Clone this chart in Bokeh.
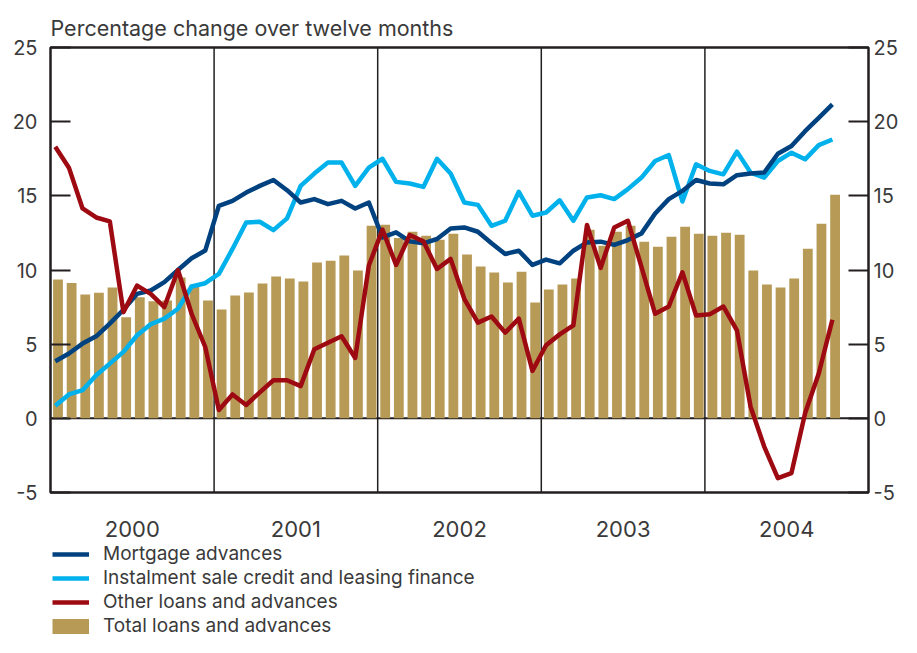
from bokeh.plotting import figure
from bokeh.models import (LinearAxis, FixedTicker, Span, Legend, LegendItem,
                          Range1d, ColumnDataSource)
from bokeh.layouts import column
from bokeh.embed import file_html
from bokeh.resources import INLINE

# ---------------- data (monthly, Jan 2000 - Oct 2004) ----------------
years = ["2000", "2001", "2002", "2003", "2004"]

mortgage = [3.85, 4.37, 5.04, 5.53, 6.38, 7.32, 8.39, 8.62, 9.18, 10.0, 10.79, 11.31,
            14.33, 14.66, 15.22, 15.67, 16.07, 15.38, 14.55, 14.78, 14.44, 14.66, 14.15, 14.55,
            12.2, 12.54, 11.93, 11.8, 12.09, 12.8, 12.87, 12.58, 11.8, 11.08, 11.3, 10.34,
            10.7, 10.45, 11.3, 11.86, 11.91, 11.69, 12.02, 12.47, 13.81, 14.78, 15.33, 16.07,
            15.83, 15.78, 16.39, 16.5, 16.57, 17.84, 18.36, 19.36, 20.26, 21.16]

instalment = [0.85, 1.61, 1.9, 2.91, 3.69, 4.48, 5.6, 6.34, 6.72, 7.39, 8.89, 9.11,
              9.74, 11.42, 13.2, 13.25, 12.69, 13.48, 15.67, 16.5, 17.24, 17.24, 15.67, 16.9,
              17.5, 15.94, 15.83, 15.6, 17.5, 16.5, 14.55, 14.39, 12.98, 13.32, 15.27, 13.66,
              13.88, 14.7, 13.32, 14.89, 15.04, 14.78, 15.45, 16.23, 17.35, 17.75, 14.62, 17.13,
              16.68, 16.45, 17.98, 16.57, 16.23, 17.35, 17.91, 17.46, 18.42, 18.8]

other = [18.31, 16.9, 14.15, 13.54, 13.28, 7.16, 8.95, 8.39, 7.5, 10.0, 7.05, 4.81,
         0.56, 1.61, 0.9, 1.75, 2.57, 2.57, 2.17, 4.66, 5.1, 5.53, 4.07, 10.3,
         12.72, 10.34, 12.36, 11.93, 10.07, 10.75, 8.06, 6.45, 6.87, 5.78, 6.72, 3.2,
         4.93, 5.66, 6.27, 13.03, 10.14, 12.87, 13.32, 10.19, 7.05, 7.54, 9.85, 6.94,
         7.01, 7.54, 5.93, 0.78, -1.9, -4.03, -3.69, 0.34, 3.02, 6.65]

total = [9.36, 9.13, 8.35, 8.46, 8.82, 6.81, 8.17, 7.9, 7.95, 9.49, 9.0, 7.95,
         7.34, 8.28, 8.48, 9.09, 9.56, 9.42, 9.22, 10.5, 10.63, 10.97, 9.96, 12.98,
         13.05, 12.16, 12.58, 12.31, 12.04, 12.45, 11.04, 10.23, 9.83, 9.16, 9.89, 7.81,
         8.69, 9.02, 9.42, 12.72, 11.64, 12.58, 12.98, 11.91, 11.57, 12.25, 12.92, 12.45,
         12.31, 12.51, 12.38, 9.96, 9.02, 8.82, 9.42, 11.44, 13.12, 15.07]

y_ticks = [-5, 0, 5, 10, 15, 20, 25]

labels = ["Mortgage advances",
          "Instalment sale credit and leasing finance",
          "Other loans and advances",
          "Total loans and advances"]

# ---------------- styling ----------------
C_MORT = "#00427f"
C_INST = "#00b1ec"
C_OTHER = "#9e0a12"
C_BAR = "#b89a57"
C_FRAME = "#231f20"
C_TEXT = "#3a3a3a"
FONT = "Inter"
LW = 4.5

months_per_year = 12
n = len(total)
idx = list(range(n))
src = ColumnDataSource(dict(
    bx=[i + 0.55 for i in idx],
    lx=[i + 0.35 for i in idx],
    mortgage=mortgage, instalment=instalment, other=other, total=total,
))

p = figure(width=901, height=541,
           x_range=Range1d(0, months_per_year * len(years)),
           y_range=Range1d(y_ticks[0], y_ticks[-1]),
           output_backend="svg", toolbar_location=None,
           min_border_left=50, min_border_right=30,
           min_border_top=47, min_border_bottom=49,
           background_fill_color="white", border_fill_color="white")

p.title.text = "Percentage change over twelve months"
p.title.text_font = FONT
p.title.text_font_size = "21.5px"
p.title.text_font_style = "normal"
p.title.text_color = C_TEXT
p.title.align = "left"
p.title.standoff = 14

p.xgrid.visible = False
p.ygrid.visible = False
p.outline_line_color = C_FRAME
p.outline_line_width = 2.5
p.outline_line_alpha = 1.0

# separators and zero line
for k in range(1, len(years)):
    p.add_layout(Span(location=k * months_per_year, dimension="height",
                      line_color=C_FRAME, line_width=1.5, level="underlay"))
p.add_layout(Span(location=0, dimension="width", line_color=C_FRAME,
                  line_width=2, level="underlay"))

# glyphs
r_bar = p.vbar(x="bx", top="total", bottom=0, width=0.72, source=src,
               fill_color=C_BAR, line_color=None)
r_inst = p.line("lx", "instalment", source=src, line_color=C_INST, line_width=LW,
                line_join="round")
r_mort = p.line("lx", "mortgage", source=src, line_color=C_MORT, line_width=LW,
                line_join="round")
r_other = p.line("lx", "other", source=src, line_color=C_OTHER, line_width=LW,
                 line_join="round")

# y axes
overrides = {t: str(t) for t in y_ticks}


def style_y(ax, standoff):
    ax.ticker = FixedTicker(ticks=y_ticks)
    ax.major_label_overrides = overrides
    ax.axis_line_color = None
    ax.major_tick_in = 20
    ax.major_tick_out = 0
    ax.major_tick_line_width = 2
    ax.major_tick_line_color = C_FRAME
    ax.minor_tick_line_color = None
    ax.major_label_standoff = standoff
    ax.major_label_text_font = FONT
    ax.major_label_text_font_size = "20px"
    ax.major_label_text_color = C_TEXT


style_y(p.yaxis[0], 13)
right_axis = LinearAxis()
style_y(right_axis, 5)
p.add_layout(right_axis, "right")

# x axis: year labels in the middle of each year
xax = p.xaxis[0]
mids = [k * months_per_year + months_per_year / 2 for k in range(len(years))]
xax.ticker = FixedTicker(ticks=mids)
xax.major_label_overrides = {m: y for m, y in zip(mids, years)}
xax.axis_line_color = None
xax.major_tick_line_color = None
xax.minor_tick_line_color = None
xax.major_label_standoff = 22
xax.major_label_text_font = FONT
xax.major_label_text_font_size = "22px"
xax.major_label_text_color = C_TEXT

# ---------------- legend strip under the chart ----------------
# The strip re-uses the same series; its y range lies above the data so the
# series themselves stay out of view and only the legend keys are shown.
lf = figure(width=901, height=96, x_range=Range1d(0, months_per_year * len(years)),
            y_range=Range1d(100, 101),
            output_backend="svg", toolbar_location=None,
            x_axis_location=None, y_axis_location=None,
            min_border=0, outline_line_color=None,
            background_fill_color="white", border_fill_color="white")
lf.xgrid.visible = False
lf.ygrid.visible = False
k_mort = lf.line("lx", "mortgage", source=src, line_color=C_MORT, line_width=LW)
k_inst = lf.line("lx", "instalment", source=src, line_color=C_INST, line_width=LW)
k_other = lf.line("lx", "other", source=src, line_color=C_OTHER, line_width=LW)
k_bar = lf.line("lx", "total", source=src, line_color=C_BAR, line_width=15,
                line_cap="butt")

legend = Legend(items=[LegendItem(label=labels[0], renderers=[k_mort]),
                       LegendItem(label=labels[1], renderers=[k_inst]),
                       LegendItem(label=labels[2], renderers=[k_other]),
                       LegendItem(label=labels[3], renderers=[k_bar])],
                location=(2, 0), orientation="vertical",
                glyph_width=37, glyph_height=22, label_height=22,
                spacing=1, padding=0, margin=0, label_standoff=14,
                border_line_color=None, background_fill_alpha=0,
                label_text_font=FONT, label_text_font_size="19px",
                label_text_color=C_TEXT)
lf.add_layout(legend)

layout = column(p, lf, spacing=0)
open("out.html", "w").write(file_html(layout, INLINE))
